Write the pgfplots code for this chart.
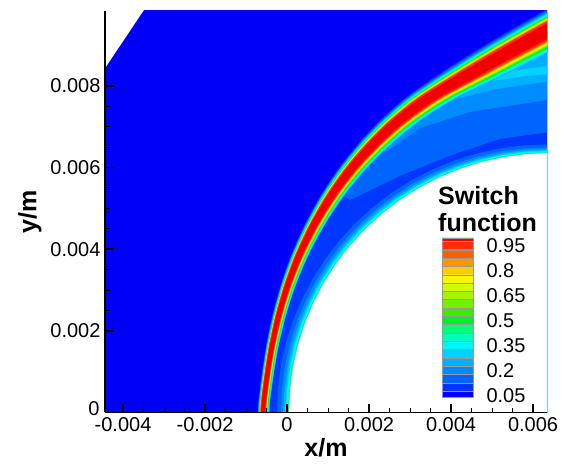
\documentclass[border=0pt]{standalone}
\usepackage{fontspec}
\setmainfont{Liberation Sans}
\usepackage{pgfplots}
\usepackage{pgfplotstable}
\pgfplotsset{compat=1.18}

\definecolor{c05}{RGB}{0,0,250}
\definecolor{c10}{RGB}{0,55,255}
\definecolor{c15}{RGB}{0,100,255}
\definecolor{c20}{RGB}{0,140,255}
\definecolor{c25}{RGB}{0,175,255}
\definecolor{c30}{RGB}{0,210,255}
\definecolor{c35}{RGB}{0,245,255}
\definecolor{c40}{RGB}{0,255,190}
\definecolor{c45}{RGB}{0,255,120}
\definecolor{c50}{RGB}{0,240,40}
\definecolor{c55}{RGB}{60,235,0}
\definecolor{c60}{RGB}{115,240,0}
\definecolor{c65}{RGB}{165,245,0}
\definecolor{c70}{RGB}{210,250,0}
\definecolor{c75}{RGB}{250,245,0}
\definecolor{c80}{RGB}{255,205,0}
\definecolor{c85}{RGB}{255,150,0}
\definecolor{c90}{RGB}{255,95,0}
\definecolor{c95}{RGB}{255,45,0}
\definecolor{c100}{RGB}{240,0,0}

% shock centre line: y, x of centre, local width factor, outer/inner flags
\pgfplotstableread{
y xc fac o i
-0.0008 -0.000502 1.025 1 0
0 -0.000585 1.00 1 0
0.0008 -0.000502 1.025 1 0
0.001603 -0.000376 1.083 1 0
0.002387 -0.000202 1.18 1 0
0.003121 0.0000146 1.31 1 0
0.003861 0.000298 1.50 1 0
0.004597 0.000656 1.74 1 0
0.005322 0.001090 2.05 1 0
0.005983 0.001578 2.44 1 0
0.006588 0.002120 2.92 1 0
0.007143 0.002715 3.51 1 0
0.007687 0.003439 4.42 1 0
0.008213 0.004329 5.6 1 0
0.008776 0.005317 6.5 1 0
0.009339 0.006341 7.2 1 0
0.0099 0.00739 7.8 1 0
0.01059 0.00861 8.5 1 0
0.01059 0.00861 8.5 0 1
0.0099 0.00739 7.8 0 1
0.009339 0.006341 7.2 0 1
0.008776 0.005317 6.5 0 1
0.008213 0.004329 5.6 0 1
0.007687 0.003439 4.42 0 1
0.007143 0.002715 3.51 0 1
0.006588 0.002120 2.92 0 1
0.005983 0.001578 2.44 0 1
0.005322 0.001090 2.05 0 1
0.004597 0.000656 1.74 0 1
0.003861 0.000298 1.50 0 1
0.003121 0.0000146 1.31 0 1
0.002387 -0.000202 1.18 0 1
0.001603 -0.000376 1.083 0 1
0.0008 -0.000502 1.025 0 1
0 -0.000585 1.00 0 1
-0.0008 -0.000502 1.025 0 1
}\shocktab

% unit circle (second quadrant) for the body and wall layers
\pgfplotstableread{
c s
0.3 1.0
0 1
-0.08716 0.99619
-0.17365 0.98481
-0.25882 0.96593
-0.34202 0.93969
-0.42262 0.90631
-0.5 0.86603
-0.57358 0.81915
-0.64279 0.76604
-0.70711 0.70711
-0.76604 0.64279
-0.81915 0.57358
-0.86603 0.5
-0.90631 0.42262
-0.93969 0.34202
-0.96593 0.25882
-0.98481 0.17365
-0.99619 0.08716
-1 0
-0.99619 -0.08716
-0.9 -0.3
0.3 -0.3
}\unitcirc

\newcommand{\shockband}[3]{\addplot[fill=#1,draw=none,smooth,tension=0.5] table[x expr={\thisrow{xc}+\thisrow{fac}*(\thisrow{i}*#3-\thisrow{o}*#2)*0.0001}, y=y]{\shocktab};}
\newcommand{\disk}[3]{\addplot[fill=#1,draw=none] table[x expr={#2+#3*\thisrow{c}}, y expr={#3*\thisrow{s}}]{\unitcirc};}
\newcommand{\cbband}[3]{\addplot[fill=#1,draw=black!40,line width=0.25pt] coordinates {(0,#2) (1,#2) (1,#3) (0,#3) (0,#2)};}

\begin{document}
\begin{tikzpicture}
\useasboundingbox (-105pt,-52.5pt) rectangle (465pt,412.5pt);
\begin{axis}[
  at={(0pt,0pt)}, anchor=south west,
  scale only axis, width=442pt, height=401.5pt,
  xmin=-0.00444, xmax=0.00634, ymin=0, ymax=0.00983,
  axis x line*=bottom, axis y line*=left,
  axis on top,
  tick align=inside,
  scaled ticks=false,
  xtick={-0.004,-0.002,0,0.002,0.004,0.006},
  xticklabels={-0.004,-0.002,0,0.002,0.004,0.006},
  ytick={0.002,0.004,0.006,0.008},
  yticklabels={0.002,0.004,0.006,0.008},
  extra y ticks={0},
  extra y tick labels={0},
  extra y tick style={yticklabel style={yshift=3.5pt, xshift=-1pt}},
  minor x tick num=3, minor y tick num=3,
  major tick length=8.5pt, minor tick length=4.5pt,
  every major tick/.append style={line width=1.6pt, black},
  every minor tick/.append style={line width=0.8pt, black},
  axis line style={line width=1.6pt, black},
  ticklabel style={font=\fontsize{20}{24}\selectfont},
  xticklabel style={yshift=-1.5pt},
  yticklabel style={xshift=-1pt},
  xlabel={x/m}, ylabel={y/m},
  label style={font=\bfseries\fontsize{25}{30}\selectfont},
  xlabel style={at={(axis description cs:0.5,-0.11)}, anchor=base},
  ylabel style={at={(axis description cs:-0.17,0.5)}, anchor=center},
]
% free stream
\addplot[fill=c05,draw=none] coordinates {(-0.005,-0.001) (0.009,-0.001) (0.009,0.011) (-0.005,0.011)};
% shock layer base
\addplot[fill=c10,draw=none] coordinates {(-0.000502,-0.0012) (-0.000502,-0.0008) (-0.000585,0) (-0.000502,0.0008) (-0.000376,0.001603) (-0.000202,0.002387) (0.0000146,0.003121) (0.000298,0.003861) (0.000656,0.004597) (0.001090,0.005322) (0.001578,0.005983) (0.002120,0.006588) (0.002715,0.007143) (0.003439,0.007687) (0.004329,0.008213) (0.005317,0.008776) (0.006341,0.009339) (0.00739,0.0099) (0.00861,0.01059) (0.0095,0.01059) (0.0095,-0.0012)};
\addplot[fill=c15,draw=none] coordinates {(0.00154,0.0052) (0.00276,0.0058) (0.0040,0.0063) (0.0052,0.0067) (0.00634,0.00686) (0.0095,0.0071) (0.0095,0.01059) (0.00861,0.01059) (0.00739,0.0099) (0.006341,0.009339) (0.005317,0.008776) (0.004329,0.008213) (0.003439,0.007687) (0.002715,0.007143) (0.002120,0.006588) (0.001578,0.005983) (0.0012,0.0054)};
\addplot[fill=c20,draw=none] coordinates {(0.00245,0.0064) (0.00324,0.00696) (0.00446,0.00736) (0.00634,0.00765) (0.0095,0.0078) (0.0095,0.01059) (0.00861,0.01059) (0.00739,0.0099) (0.006341,0.009339) (0.005317,0.008776) (0.004329,0.008213) (0.003439,0.007687) (0.002715,0.007143) (0.0021,0.0065)};
\addplot[fill=c25,draw=none] coordinates {(0.0042,0.0077) (0.0050,0.0079) (0.00634,0.0081) (0.0095,0.0083) (0.0095,0.01059) (0.00861,0.01059) (0.00739,0.0099) (0.006341,0.009339) (0.005317,0.008776) (0.004329,0.008213) (0.0036,0.0077)};
\addplot[fill=c30,draw=none] coordinates {(0.0049,0.0081) (0.0057,0.00822) (0.0065,0.0083) (0.0065,0.0085) (0.0057,0.0084) (0.0052,0.0083)};
% wall layers and body
\disk{c15}{0.00631}{0.00656}
\disk{c20}{0.00634}{0.00649}
\disk{c25}{0.006358}{0.006448}
\disk{c30}{0.00637}{0.00642}
\disk{c35}{0.006379}{0.006399}
\disk{c45}{0.0063895}{0.0063745}
\disk{white}{0.0064}{0.00635}
% shock bands
\shockband{c10}{1.30}{1.50}
\shockband{c15}{1.22}{1.50}
\shockband{c20}{1.15}{1.50}
\shockband{c25}{1.09}{1.50}
\shockband{c30}{1.04}{1.48}
\shockband{c35}{0.99}{1.40}
\shockband{c40}{0.95}{1.31}
\shockband{c45}{0.91}{1.23}
\shockband{c50}{0.87}{1.16}
\shockband{c55}{0.84}{1.09}
\shockband{c60}{0.81}{1.03}
\shockband{c65}{0.78}{0.97}
\shockband{c70}{0.75}{0.91}
\shockband{c75}{0.72}{0.86}
\shockband{c80}{0.69}{0.80}
\shockband{c85}{0.66}{0.75}
\shockband{c90}{0.63}{0.70}
\shockband{c95}{0.60}{0.65}
\shockband{c100}{0.46}{0.52}
% outside the domain
\addplot[fill=white,draw=none] coordinates {(-0.005,0.00759) (-0.00306,0.0105) (-0.005,0.0105)};
\end{axis}

\begin{axis}[
  at={(337pt,15.5pt)}, anchor=south west,
  scale only axis, width=31pt, height=159pt,
  xmin=0, xmax=1, ymin=0.04, ymax=0.995,
  clip=false,
  hide x axis,
  axis y line*=right,
  y axis line style={draw=none},
  ytick={0.05,0.2,0.35,0.5,0.65,0.8,0.95},
  yticklabels={0.05,0.2,0.35,0.5,0.65,0.8,0.95},
  major tick length=0pt,
  yticklabel style={font=\fontsize{20}{24}\selectfont, xshift=10pt},
]
\cbband{c05}{0.04}{0.075}
\cbband{c10}{0.075}{0.125}
\cbband{c15}{0.125}{0.175}
\cbband{c20}{0.175}{0.225}
\cbband{c25}{0.225}{0.275}
\cbband{c30}{0.275}{0.325}
\cbband{c35}{0.325}{0.375}
\cbband{c40}{0.375}{0.425}
\cbband{c45}{0.425}{0.475}
\cbband{c50}{0.475}{0.525}
\cbband{c55}{0.525}{0.575}
\cbband{c60}{0.575}{0.625}
\cbband{c65}{0.625}{0.675}
\cbband{c70}{0.675}{0.725}
\cbband{c75}{0.725}{0.775}
\cbband{c80}{0.775}{0.825}
\cbband{c85}{0.825}{0.875}
\cbband{c90}{0.875}{0.925}
\cbband{c95}{0.925}{0.975}
\cbband{c100}{0.975}{0.995}
\node[anchor=base west, xshift=-4pt, yshift=33.3pt, inner sep=0pt, font=\bfseries\fontsize{25}{30}\selectfont] at (rel axis cs:0,1) {Switch};
\node[anchor=base west, xshift=-4pt, yshift=6.6pt, inner sep=0pt, font=\bfseries\fontsize{25}{30}\selectfont] at (rel axis cs:0,1) {function};
\end{axis}
\end{tikzpicture}
\end{document}
